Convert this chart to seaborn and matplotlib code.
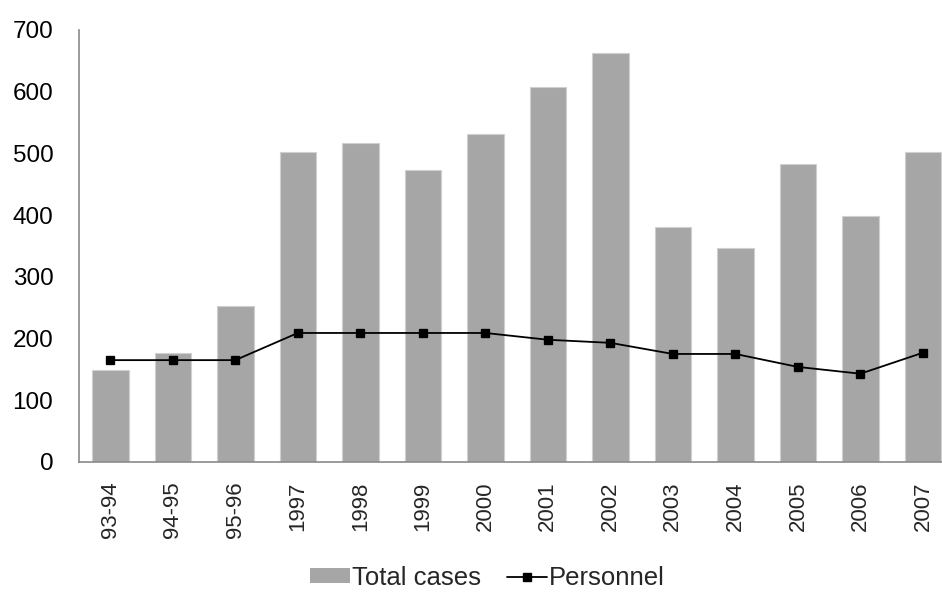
import matplotlib
matplotlib.use("Agg")
import matplotlib.pyplot as plt
import seaborn as sns
from matplotlib.lines import Line2D
from matplotlib.patches import Patch

# Data
years = ['93-94', '94-95', '95-96', '1997', '1998', '1999', '2000',
         '2001', '2002', '2003', '2004', '2005', '2006', '2007']
total_cases = [149, 177, 253, 502, 516, 473, 532, 607, 662, 380, 347, 482, 398, 502]
personnel = [165, 165, 165, 209, 209, 209, 209, 198, 193, 175, 175, 154, 143, 177]

sns.set_style('white')
plt.rcParams['font.family'] = ['Liberation Sans', 'DejaVu Sans']

fig = plt.figure(figsize=(9.42, 5.92), dpi=100)
ax = fig.add_axes([0.0839, 0.2196, 0.929, 0.73])

sns.barplot(x=years, y=total_cases, color='#a6a6a6', saturation=1, width=0.585,
            edgecolor='#d0d0d0', linewidth=0.8, ax=ax)
sns.pointplot(x=years, y=personnel, color='black', markers='s', markersize=6,
              linewidth=1.3, ax=ax)

ax.set_ylim(0, 700)
ax.set_xlim(-0.5, 13.5)
ax.set_yticks(range(0, 701, 100))
ax.tick_params(axis='y', length=0, pad=18.5, labelsize=17.5, colors='#000000')
ax.tick_params(axis='x', length=0, pad=14, labelsize=16, rotation=90)

for side in ['top', 'right']:
    ax.spines[side].set_visible(False)
for side in ['left', 'bottom']:
    ax.spines[side].set_color('#8a8a8a')
    ax.spines[side].set_linewidth(1.2)

handles = [Patch(facecolor='#a6a6a6', edgecolor='none', label='Total cases'),
           Line2D([0], [0], color='black', marker='s', markersize=6, linewidth=1.3,
                  label='Personnel')]
fig.legend(handles=handles, loc='center', bbox_to_anchor=(0.5175, 0.024), ncol=2,
           frameon=False, fontsize=18.5, handlelength=1.55, handleheight=0.5,
           handletextpad=0.1, columnspacing=1.0, borderpad=0)

fig.savefig('out.png', dpi=100)
